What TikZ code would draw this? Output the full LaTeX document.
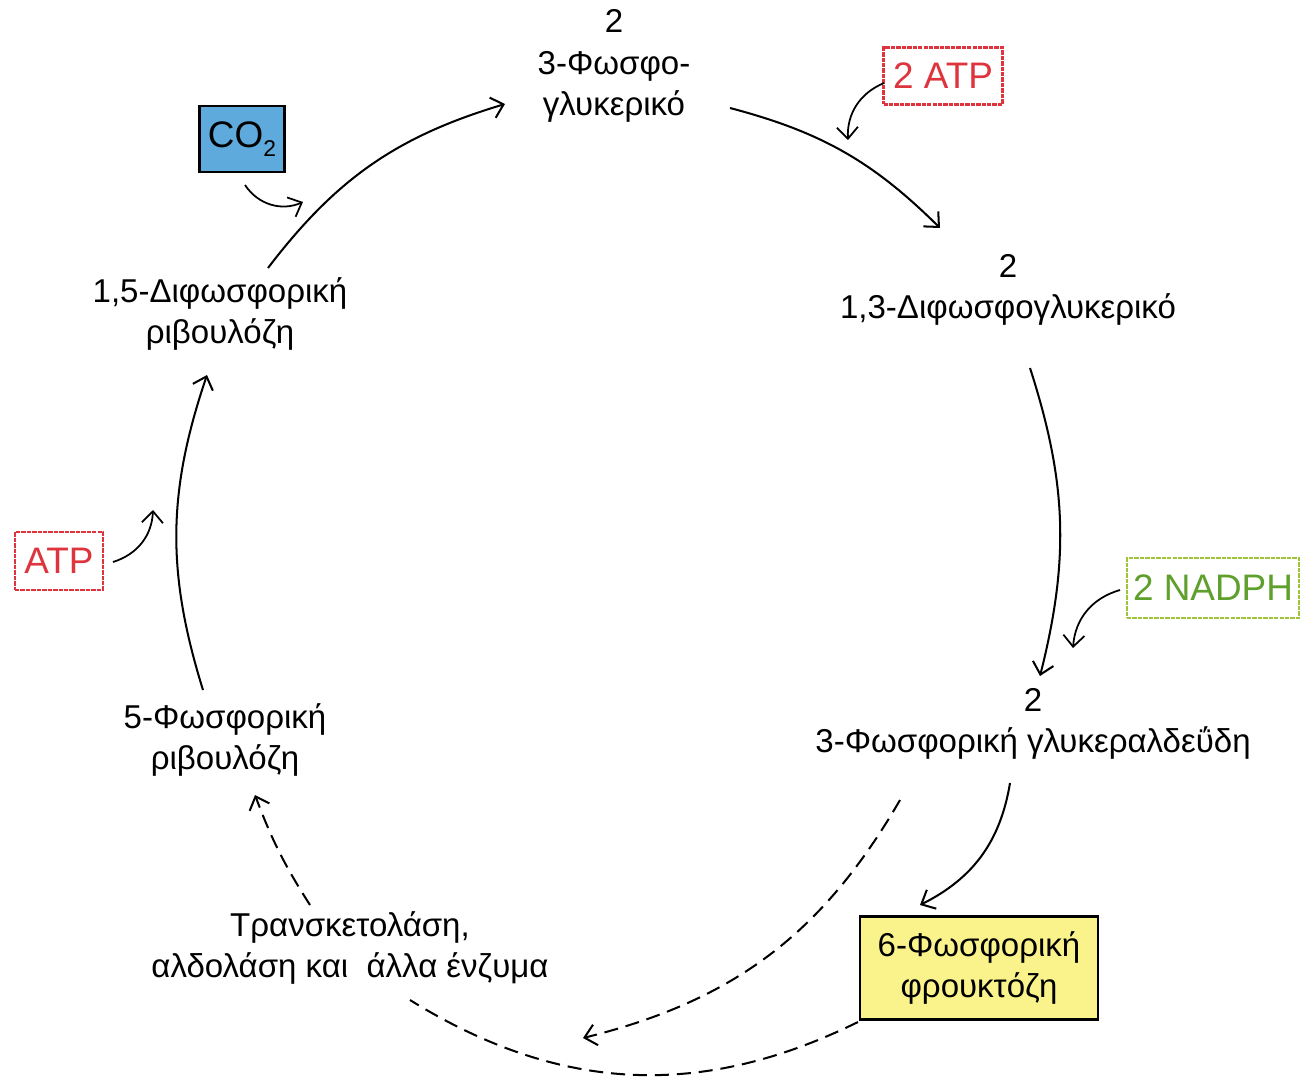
\documentclass[tikz,border=0pt]{standalone}
\usepackage{fontspec}
\setmainfont{Liberation Sans}
\usepackage{xcolor}
\usetikzlibrary{arrows.meta,calc}

\definecolor{atpred}{RGB}{222,52,62}
\definecolor{nadgreen}{RGB}{95,160,45}
\definecolor{nadframe}{RGB}{160,196,55}
\definecolor{cofill}{RGB}{95,170,220}
\definecolor{fructfill}{RGB}{250,243,140}

\begin{document}
\begin{tikzpicture}[x=0.02cm,y=-0.02cm,>={Straight Barb[length=6.5pt,width=12pt]},
                    line width=1.15pt,
                    main node/.style={align=center,inner sep=1pt,font=\fontsize{18.8}{23.5}\selectfont},
                    box node/.style={draw,align=center,inner sep=0pt,font=\fontsize{21}{25}\selectfont},
                    co node/.style={box node,line width=1.3pt,dash pattern=on 2.5pt off 0.6pt},
                    broken/.style={dash pattern=on 8pt off 4.5pt}]

  \useasboundingbox (0,0) rectangle (1301,1079);

  % intermediates of the cycle
  \node[main node] (1) at (614,66) {2\\3-Φωσφο-\\γλυκερικό};
  \node[main node] (2) at (1008,290) {2\\1,3-Διφωσφογλυκερικό};
  \node[main node] (3) at (1033,724) {2\\3-Φωσφορική γλυκεραλδεΰδη};
  \node[main node] (4) at (225,740) {5-Φωσφορική\\ριβουλόζη};
  \node[main node] (5) at (220,314) {1,5-Διφωσφορική\\ριβουλόζη};
  \node[main node] (6) at (350,948) {Τρανσκετολάση,\\αλδολάση και~ άλλα ένζυμα};

  % boxed inputs and product
  \node[box node,fill=fructfill,line width=1.5pt,minimum width=4.76cm,minimum height=2.06cm,
        font=\fontsize{18.8}{23.5}\selectfont] (7) at (979,968) {6-Φωσφορική\\φρουκτόζη};
  \node[box node,fill=cofill,line width=1.3pt,minimum width=1.7cm,minimum height=1.32cm] (8) at (242,139)
        {CO\raisebox{-0.45ex}{\fontsize{13}{13}\selectfont 2}};
  \node[co node,draw=atpred,text=atpred,minimum width=2.38cm,minimum height=1.14cm] (9) at (943,76) {2 ATP};
  \node[co node,draw=nadframe,text=nadgreen,minimum width=3.44cm,minimum height=1.2cm] (10) at (1213,588) {2 NADPH};
  \node[co node,draw=atpred,text=atpred,minimum width=1.76cm,minimum height=1.16cm] (11) at (59,561) {ATP};

  \coordinate (a) at (848,140);
  \coordinate (b) at (303,202);
  \coordinate (c) at (153,510);
  \coordinate (d) at (1073,648);
  \coordinate (e) at (583,1038);

  \path[->]
    ($(5)+(48,-46)$) edge [bend left=18] ($(1)+(-109,38)$)
    ($(1)+(116,42)$) edge [bend left=15] ($(2)+(-68,-62)$)
    ($(2)+(22,78)$) edge [bend left=16] ($(3)+(7,-48)$)
    ($(3)+(-23,59)$) edge [bend left=27] ($(7)+(-59,-63)$)
    ($(4)+(-22,-50)$) edge [bend left=18] ($(5)+(-13,61)$);

  \path[->,line width=1pt]
    ($(9)+(-59,7)$) edge [bend right=35] (a)
    ($(8)+(3,46)$) edge [bend right=40] (b)
    ($(11)+(54,1)$) edge [bend right=35] (c)
    ($(10)+(-93,2)$) edge [bend right=35] (d);

  \path[broken]
    ($(3)+(-133,76)$) edge [->,bend left=23] (e)
    ($(7)+(-121,54)$) edge [bend left=29] ($(6)+(60,52)$)
    ($(6)+(-40,-43)$) edge [->,bend left=6] ($(4)+(30,55)$);
\end{tikzpicture}
\end{document}
